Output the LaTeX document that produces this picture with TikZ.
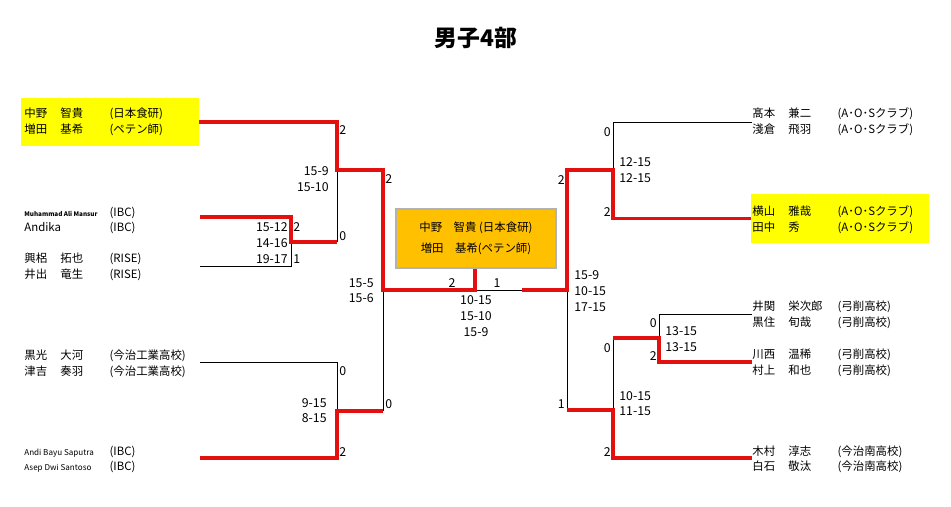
\documentclass[tikz,border=0pt]{standalone}
\usepackage{fontspec}
\setmainfont{Noto Sans CJK JP}
\usepackage{tikz}
\usetikzlibrary{calc}

\definecolor{winred}{RGB}{228,16,16}
\definecolor{seedyellow}{RGB}{255,255,0}
\definecolor{champorange}{RGB}{255,192,0}

\newcommand{\pname}[3]{\makebox[20.5pt][l]{#1}\makebox[28pt][l]{#2}#3}

\tikzset{
  winline/.style={draw=winred,line width=2.2pt},
  loseline/.style={draw=black,line width=0.45pt},
  txt/.style={inner sep=0pt,font=\fontsize{6.5pt}{8pt}\selectfont},
  num/.style={inner sep=0pt,font=\fontsize{7pt}{8pt}\selectfont},
  entry/.style={txt,anchor=west},
  ptL/.style={num,anchor=west},
  ptR/.style={num,anchor=east},
  scL/.style={num,anchor=east},
  scR/.style={num,anchor=west},
  seedbox/.style={fill=seedyellow,minimum width=3.56cm,minimum height=0.97cm,inner sep=0pt}
}

\begin{document}
\begin{tikzpicture}[x=0.02cm,y=-0.02cm]
            \useasboundingbox (0,0) rectangle (951,507);
            \node[inner sep=0pt,font=\fontsize{13pt}{15pt}\selectfont\bfseries] (title) at (476,38){男子4部};

            % seeded pairs
            \node[seedbox] (seedL) at (110,122){};
            \node[seedbox] (seedR) at (840,218.5){};
            \node[fill=champorange,draw=black!30,line width=0.6pt,minimum width=3.2cm,minimum height=1.18cm,
                  inner sep=0pt,align=center,font=\fontsize{6.5pt}{12pt}\selectfont] (champ) at (476,238.5)
                  {中野\quad 智貴 (日本食研)\\増田\quad 基希(ペテン師)};

            % left entries
            \node[entry] (nL1a) at (24,114){\pname{中野}{智貴}{(日本食研)}};
            \node[entry] (nL1b) at (24,130){\pname{増田}{基希}{(ペテン師)}};
            \node[entry] (nL2a) at (24,213){\makebox[48.5pt][l]{\fontsize{3.6pt}{4pt}\selectfont\bfseries Muhammad Ali Mansur}(IBC)};
            \node[entry] (nL2b) at (24,228){\makebox[48.5pt][l]{Andika}(IBC)};
            \node[entry] (nL3a) at (24,259){\pname{興梠}{拓也}{(RISE)}};
            \node[entry] (nL3b) at (24,275){\pname{井出}{竜生}{(RISE)}};
            \node[entry] (nL4a) at (24,356){\pname{黒光}{大河}{(今治工業高校)}};
            \node[entry] (nL4b) at (24,372){\pname{津吉}{奏羽}{(今治工業高校)}};
            \node[entry] (nL5a) at (24,452){\makebox[48.5pt][l]{\fontsize{4.6pt}{5pt}\selectfont Andi Bayu Saputra}(IBC)};
            \node[entry] (nL5b) at (24,467){\makebox[48.5pt][l]{\fontsize{4.6pt}{5pt}\selectfont Asep Dwi Santoso}(IBC)};

            % right entries
            \node[entry] (nR1a) at (752,114){\pname{髙本}{兼二}{(A･O･Sクラブ)}};
            \node[entry] (nR1b) at (752,130){\pname{淺倉}{飛羽}{(A･O･Sクラブ)}};
            \node[entry] (nR2a) at (752,212){\pname{横山}{雅哉}{(A･O･Sクラブ)}};
            \node[entry] (nR2b) at (752,228){\pname{田中}{秀}{(A･O･Sクラブ)}};
            \node[entry] (nR3a) at (752,307){\pname{井関}{栄次郎}{(弓削高校)}};
            \node[entry] (nR3b) at (752,323){\pname{黒住}{旬哉}{(弓削高校)}};
            \node[entry] (nR4a) at (752,355){\pname{川西}{温稀}{(弓削高校)}};
            \node[entry] (nR4b) at (752,371){\pname{村上}{和也}{(弓削高校)}};
            \node[entry] (nR5a) at (752,452){\pname{木村}{淳志}{(今治南高校)}};
            \node[entry] (nR5b) at (752,467){\pname{白石}{敬汰}{(今治南高校)}};

            % line ends and joins
            \coordinate (eL2) at (200,217);
            \coordinate (eL3) at (200,266);
            \coordinate (eL4) at (200,362);
            \coordinate (eL5) at (200,458);
            \coordinate (eR1) at (752,122);
            \coordinate (eR3) at (752,314);
            \coordinate (eR4) at (752,362);
            \coordinate (eR5) at (752,458);
            \coordinate (aL) at (337,170);
            \coordinate (bL) at (291,242);
            \coordinate (cL) at (337,411);
            \coordinate (sL) at (383,290);
            \coordinate (fL) at (475,290);
            \coordinate (fR) at (522,290);
            \coordinate (sR) at (567,290);
            \coordinate (aR) at (613,170);
            \coordinate (cR) at (613,410);
            \coordinate (bR) at (659,338);

            \draw[loseline] (aL) -- (aL |- bL);
            \draw[loseline] (eL3) -| (bL);
            \draw[loseline] (eL4) -| (cL);
            \draw[loseline] (sL) -- (sL |- cL);
            \draw[loseline] (fL) -- (fR);
            \draw[loseline] (eR1) -| (aR);
            \draw[loseline] (sR) -- (sR |- cR);
            \draw[loseline] (cR) -- (cR |- bR);
            \draw[loseline] (eR3) -| (bR);

            \draw[winline] (seedL.east) -| (aL) -| (sL) -- (fL) -- (fL |- champ.south);
            \draw[winline] (eL2) -| (bL) -- (aL |- bL);
            \draw[winline] (eL5) -| (cL) -- (sL |- cL);
            \draw[winline] (fR) -- (sR) |- (aR) |- (seedR.west);
            \draw[winline] (sR |- cR) -- (cR) |- (eR5);
            \draw[winline] (cR |- bR) -- (bR) |- (eR4);

            % games won
            \node[ptL] (gL1) at (339,130){2};
            \node[ptL] (gL2) at (339,236){0};
            \node[ptL] (gL3) at (293,227){2};
            \node[ptL] (gL4) at (293,259){1};
            \node[ptL] (gL5) at (385,179){2};
            \node[ptL] (gL6) at (339,371){0};
            \node[ptL] (gL7) at (339,452){2};
            \node[ptL] (gL8) at (385,404){0};
            \node[num] (gC1) at (452,283){2};
            \node[num] (gC2) at (497,283){1};
            \node[ptR] (gR1) at (611,132){0};
            \node[ptR] (gR2) at (611,212){2};
            \node[ptR] (gR3) at (565,180){2};
            \node[ptR] (gR4) at (565,404){1};
            \node[ptR] (gR5) at (657,323){0};
            \node[ptR] (gR6) at (657,356){2};
            \node[ptR] (gR7) at (611,348){0};
            \node[ptR] (gR8) at (611,452){2};

            % set scores
            \node[scL] (sL1a) at (329,171){15-9};
            \node[scL] (sL1b) at (329,187){15-10};
            \node[scL] (sL2a) at (288,227){15-12};
            \node[scL] (sL2b) at (288,243){14-16};
            \node[scL] (sL2c) at (288,259){19-17};
            \node[scL] (sL3a) at (327,403){9-15};
            \node[scL] (sL3b) at (327,418){8-15};
            \node[scL] (sL4a) at (374,283){15-5};
            \node[scL] (sL4b) at (374,298){15-6};
            \node[num] (sC1) at (476,300){10-15};
            \node[num] (sC2) at (476,316){15-10};
            \node[num] (sC3) at (476,332){15-9};
            \node[scR] (sR1a) at (619,162){12-15};
            \node[scR] (sR1b) at (619,178){12-15};
            \node[scR] (sR2a) at (574,275){15-9};
            \node[scR] (sR2b) at (574,291){10-15};
            \node[scR] (sR2c) at (574,307){17-15};
            \node[scR] (sR3a) at (665,331){13-15};
            \node[scR] (sR3b) at (665,347){13-15};
            \node[scR] (sR4a) at (619,396){10-15};
            \node[scR] (sR4b) at (619,411){11-15};
          \end{tikzpicture}
\end{document}
